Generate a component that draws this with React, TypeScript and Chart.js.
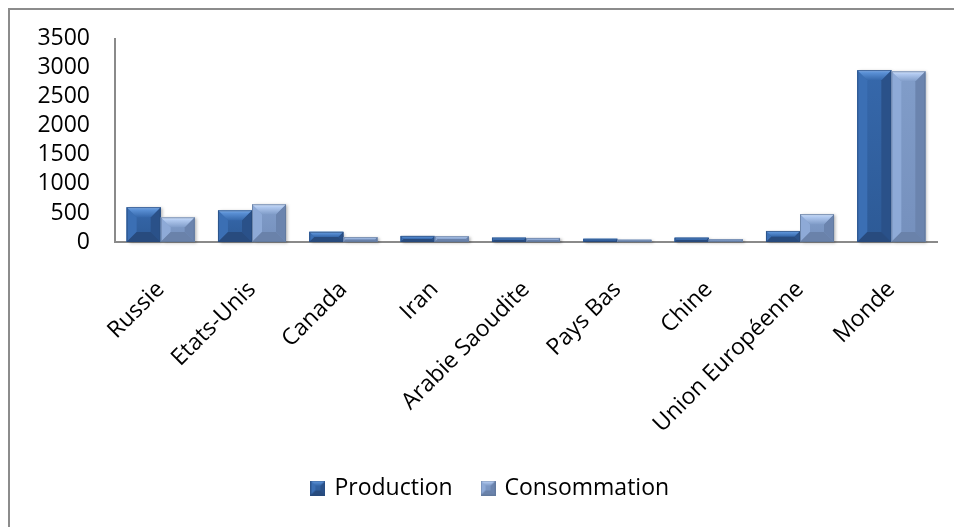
import React, { useEffect, useRef } from "react";
import { Chart, registerables } from "chart.js";

Chart.register(...registerables);

// Categories and series values
const categories = [
  "Russie",
  "Etats-Unis",
  "Canada",
  "Iran",
  "Arabie Saoudite",
  "Pays Bas",
  "Chine",
  "Union Européenne",
  "Monde",
];
const seriesNames = ["Production", "Consommation"];
const production = [600, 545, 175, 105, 75, 55, 75, 190, 2960];
const consommation = [425, 650, 85, 100, 70, 40, 50, 480, 2940];
const yMin = 0;
const yMax = 3500;
const yStep = 500;

type Palette = {
  body: string;
  bodyDark: string;
  top: string;
  topEdge: string;
  left: string;
  right: string;
  bottom: string;
  outline: string;
};

// Bevelled "slant" look for each series
const palettes: Palette[] = [
  {
    body: "#3668ab",
    bodyDark: "#2d5a96",
    top: "#5b91d6",
    topEdge: "#93bdf0",
    left: "#3b6fb4",
    right: "#2a5189",
    bottom: "#284b7e",
    outline: "#27497a",
  },
  {
    body: "#819dc9",
    bodyDark: "#7590bd",
    top: "#b3cbf1",
    topEdge: "#dce8fb",
    left: "#8eaad7",
    right: "#6b84ae",
    bottom: "#6a82aa",
    outline: "#5f7699",
  },
];

const FONT = "'Open Sans', sans-serif";

function poly(ctx: CanvasRenderingContext2D, pts: number[][], fill: string | CanvasGradient) {
  ctx.beginPath();
  ctx.moveTo(pts[0][0], pts[0][1]);
  for (let i = 1; i < pts.length; i++) ctx.lineTo(pts[i][0], pts[i][1]);
  ctx.closePath();
  ctx.fillStyle = fill;
  ctx.fill();
}

function drawBevelBox(
  ctx: CanvasRenderingContext2D,
  l: number,
  t: number,
  w: number,
  h: number,
  pal: Palette,
  bevelMax: number,
  shadow: boolean
) {
  if (h <= 0 || w <= 0) return;
  const r = l + w;
  const btm = t + h;
  const b = Math.min(bevelMax, h / 2, w / 2);

  ctx.save();
  if (shadow) {
    ctx.shadowColor = "rgba(0,0,0,0.28)";
    ctx.shadowOffsetX = 2;
    ctx.shadowOffsetY = 1;
    ctx.shadowBlur = 3;
  }
  const body = ctx.createLinearGradient(0, t, 0, btm);
  body.addColorStop(0, pal.body);
  body.addColorStop(1, pal.bodyDark);
  ctx.fillStyle = body;
  ctx.fillRect(l, t, w, h);
  ctx.restore();

  ctx.save();
  // left and right faces
  poly(ctx, [[l, t], [l + b, t + b], [l + b, btm - b], [l, btm]], pal.left);
  poly(ctx, [[r, t], [r - b, t + b], [r - b, btm - b], [r, btm]], pal.right);
  // bottom face
  poly(ctx, [[l, btm], [l + b, btm - b], [r - b, btm - b], [r, btm]], pal.bottom);
  // top face
  const tg = ctx.createLinearGradient(0, t, 0, t + Math.max(b, 1));
  tg.addColorStop(0, pal.topEdge);
  tg.addColorStop(0.25, pal.top);
  tg.addColorStop(1, pal.body);
  poly(ctx, [[l, t], [r, t], [r - b, t + b], [l + b, t + b]], tg);
  // outline
  ctx.strokeStyle = pal.outline;
  ctx.lineWidth = 1;
  ctx.globalAlpha = 0.7;
  ctx.strokeRect(l + 0.5, t + 0.5, w - 1, Math.max(h - 1, 0));
  ctx.restore();
}

function makeLegendSwatch(pal: Palette): HTMLCanvasElement {
  const c = document.createElement("canvas");
  c.width = 15;
  c.height = 15;
  const cx = c.getContext("2d");
  if (cx) drawBevelBox(cx, 0, 0, 15, 15, pal, 5, false);
  return c;
}

// Overlays the bevelled faces on every bar, using the bar elements' own geometry
const bevelPlugin = {
  id: "bevelBars",
  afterDatasetsDraw(chart: any) {
    const ctx: CanvasRenderingContext2D = chart.ctx;
    chart.data.datasets.forEach((_ds: any, di: number) => {
      const meta = chart.getDatasetMeta(di);
      if (meta.hidden) return;
      const pal = palettes[di];
      meta.data.forEach((bar: any) => {
        const { x, y, base, width } = bar.getProps(["x", "y", "base", "width"], true);
        drawBevelBox(ctx, x - width / 2, y, width, base - y, pal, 10, true);
      });
    });
  },
};

const PLOT_LEFT = 115;
const PLOT_RIGHT = 937;
const PLOT_TOP = 37.5;
const PLOT_BOTTOM = 242;
const PAD_LEFT = 20;
const LEGEND_LEFT = 45;
const LEGEND_PAD = 30.4;
const LEGEND_TOP = 446.1;
const PAD_BOTTOM = 17.5;

// White background, outer frame, and the legend band's horizontal extent
const framePlugin = {
  id: "frame",
  afterLayout(chart: any) {
    if (chart.legend) chart.legend.left = LEGEND_LEFT;
  },
  beforeDraw(chart: any) {
    const ctx: CanvasRenderingContext2D = chart.ctx;
    ctx.save();
    ctx.fillStyle = "#ffffff";
    ctx.fillRect(0, 0, chart.width, chart.height);
    ctx.strokeStyle = "#8c8c8c";
    ctx.lineWidth = 2;
    ctx.beginPath();
    ctx.moveTo(9, chart.height);
    ctx.lineTo(9, 9);
    ctx.lineTo(chart.width, 9);
    ctx.stroke();
    ctx.restore();
  },
};

export default function App() {
  const canvasRef = useRef<HTMLCanvasElement | null>(null);

  useEffect(() => {
    const canvas = canvasRef.current;
    if (!canvas) return;
    const swatches = palettes.map(makeLegendSwatch);

    const chart = new Chart(canvas, {
      type: "bar",
      data: {
        labels: categories,
        datasets: [
          {
            label: seriesNames[0],
            data: production,
            backgroundColor: palettes[0].body,
            borderWidth: 0,
            categoryPercentage: 0.745,
            barPercentage: 1,
          },
          {
            label: seriesNames[1],
            data: consommation,
            backgroundColor: palettes[1].body,
            borderWidth: 0,
            categoryPercentage: 0.745,
            barPercentage: 1,
          },
        ],
      },
      options: {
        responsive: false,
        animation: false,
        events: [],
        layout: {
          padding: {
            left: PAD_LEFT,
            right: 954 - PLOT_RIGHT,
            top: PLOT_TOP,
            bottom: PAD_BOTTOM,
          },
        },
        scales: {
          x: {
            grid: { display: false, drawTicks: false },
            border: { display: true, color: "#8a8a8a", width: 2 },
            ticks: {
              color: "#000000",
              font: { family: FONT, size: 23 },
              minRotation: 45,
              maxRotation: 45,
              autoSkip: false,
              padding: 34,
            },
            afterFit: (scale: any) => {
              scale.height = LEGEND_TOP - PLOT_BOTTOM;
            },
          },
          y: {
            min: yMin,
            max: yMax,
            grid: { display: false, drawTicks: false },
            border: { display: true, color: "#8a8a8a", width: 2 },
            ticks: {
              stepSize: yStep,
              autoSkip: false,
              color: "#000000",
              font: { family: FONT, size: 23 },
              padding: 25,
              callback: (value: any) => String(value),
            },
            afterFit: (scale: any) => {
              scale.width = PLOT_LEFT - PAD_LEFT;
            },
          },
        },
        plugins: {
          tooltip: { enabled: false },
          title: { display: false },
          legend: {
            display: true,
            position: "bottom",
            labels: {
              color: "#000000",
              font: { family: FONT, size: 23 },
              padding: LEGEND_PAD,
              boxWidth: 10,
              boxHeight: 15,
              usePointStyle: true,
              generateLabels: () =>
                seriesNames.map((name, i) => ({
                  text: name,
                  fillStyle: palettes[i].body,
                  strokeStyle: palettes[i].body,
                  lineWidth: 0,
                  hidden: false,
                  datasetIndex: i,
                  pointStyle: swatches[i],
                })),
            },
          },
        },
      },
      plugins: [framePlugin, bevelPlugin],
    } as any);

    return () => chart.destroy();
  }, []);

  return (
    <div style={{ position: "fixed", left: 0, top: 0, width: 954, height: 527, background: "#fff" }}>
      <canvas ref={canvasRef} width={954} height={527} style={{ display: "block", width: 954, height: 527 }} />
    </div>
  );
}
